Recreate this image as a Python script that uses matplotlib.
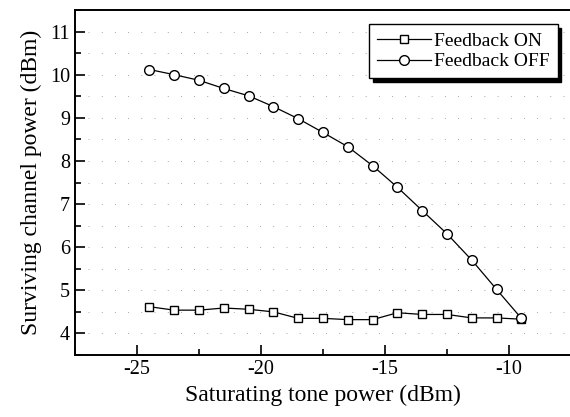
import matplotlib.pyplot as plt
from matplotlib.ticker import MultipleLocator

plt.rcParams['font.family'] = ['Liberation Serif', 'DejaVu Serif']
plt.rcParams['axes.unicode_minus'] = False

# potencia del tono saturante (dBm)
tono = [-24.5, -23.5, -22.5, -21.5, -20.5, -19.5, -18.5, -17.5,
        -16.5, -15.5, -14.5, -13.5, -12.5, -11.5, -10.5, -9.5]
feedback_on = [4.62, 4.54, 4.54, 4.59, 4.56, 4.50, 4.35, 4.35,
               4.32, 4.32, 4.48, 4.44, 4.44, 4.36, 4.36, 4.33]
feedback_off = [10.12, 10.0, 9.87, 9.68, 9.51, 9.26, 8.98, 8.66,
                8.33, 7.89, 7.39, 6.85, 6.31, 5.70, 5.02, 4.35]

fig = plt.figure(figsize=(5.7, 4.17), dpi=100)
ax = fig.add_axes([75 / 570, 1 - 355 / 417, 496 / 570, 345 / 417])

ax.plot(tono, feedback_on, '-s', color='black', lw=0.9, markersize=6,
        markerfacecolor='white', markeredgewidth=1.0, label='Feedback ON')
ax.plot(tono, feedback_off, '-o', color='black', lw=0.9, markersize=7,
        markerfacecolor='white', markeredgewidth=1.0, label='Feedback OFF')

ax.set_xlim(-27.5, -7.5)
ax.set_ylim(3.5, 11.5)
ax.xaxis.set_major_locator(MultipleLocator(5))
ax.xaxis.set_minor_locator(MultipleLocator(2.5))
ax.yaxis.set_major_locator(MultipleLocator(1))
ax.yaxis.set_minor_locator(MultipleLocator(0.5))
ax.tick_params(which='both', direction='in', top=False, right=False,
               labelsize=14.5, width=1.2)
ax.tick_params(which='major', length=7)
ax.tick_params(which='minor', length=4)

# rejilla punteada muy tenue (como en el original escaneado)
ax.grid(True, axis='y', which='both', color='#555555', lw=0.5,
        linestyle=(0, (1, 18)))

for lado in ['left', 'bottom', 'top']:
    ax.spines[lado].set_linewidth(1.4)
ax.spines['right'].set_visible(False)

ax.set_xlabel('Saturating tone power (dBm)', fontsize=17, labelpad=4)
ax.set_ylabel('Surviving channel power (dBm)', fontsize=17, labelpad=6)

leg = ax.legend(loc='upper right', bbox_to_anchor=(0.985, 0.975), fontsize=14,
                frameon=True, fancybox=False, framealpha=1,
                shadow={'color': 'black', 'alpha': 1, 'ox': 2.5, 'oy': -2.5},
                handlelength=2.8, handletextpad=0.15, borderpad=0.4,
                labelspacing=0.15, borderaxespad=0.3)
leg.get_frame().set_edgecolor('black')
leg.get_frame().set_linewidth(1.0)

fig.savefig('out.png', dpi=100)
